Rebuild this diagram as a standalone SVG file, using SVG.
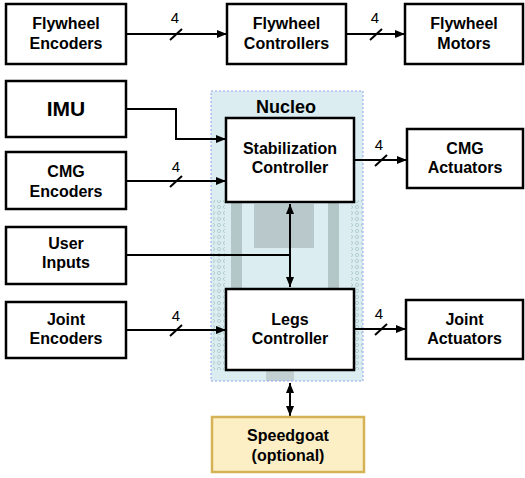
<svg xmlns="http://www.w3.org/2000/svg" width="525" height="478" viewBox="0 0 525 478">
<defs>
<style>
.box{fill:#fff;stroke:#000;stroke-width:2.5}
.t{font-family:"Liberation Sans",Arial,sans-serif;font-weight:bold;font-size:16px;fill:#000;text-anchor:middle}
.n{font-family:"Liberation Sans",Arial,sans-serif;font-size:15px;fill:#000;text-anchor:middle}
.c{fill:none;stroke:#000;stroke-width:2}
</style>
<marker id="ah" viewBox="0 0 10 10" refX="10" refY="5" markerWidth="5" markerHeight="5" orient="auto-start-reverse" markerUnits="strokeWidth">
<path d="M0,1 L10,5 L0,9 z" fill="#000"/>
</marker>
<pattern id="holes" width="6" height="6" patternUnits="userSpaceOnUse">
<circle cx="3" cy="3" r="1.6" fill="none" stroke="#aac6c8" stroke-width="0.8"/>
</pattern>
</defs>
<g id="nucleo">
<rect x="211" y="91" width="152" height="290" fill="#dbedf0"/>
<rect x="213" y="200" width="12" height="170" fill="url(#holes)"/>
<rect x="351" y="200" width="11" height="170" fill="url(#holes)"/>
<rect x="231" y="202" width="11" height="88" fill="#b3c6c8"/>
<rect x="328" y="202" width="11" height="88" fill="#b3c6c8"/>
<rect x="254" y="204" width="60" height="44" fill="#b9c8ca"/>
<rect x="266" y="370" width="28" height="11" fill="#c3d0d2"/>
<rect x="211" y="91" width="152" height="290" fill="none" stroke="#8fa2f0" stroke-width="1" stroke-dasharray="2,2"/>
<text x="286" y="113" class="t" style="font-size:18px">Nucleo</text>
</g>
<g id="connectors">
<path class="c" d="M126,34 H227" marker-end="url(#ah)"/>
<path class="c" d="M170,40 L182,29"/>
<text x="175" y="23" class="n">4</text>
<path class="c" d="M346,34 H405" marker-end="url(#ah)"/>
<path class="c" d="M370,40 L382,29"/>
<text x="375" y="23" class="n">4</text>
<path class="c" d="M126,109 H176 V139 H226" marker-end="url(#ah)"/>
<path class="c" d="M126,181 H226" marker-end="url(#ah)"/>
<path class="c" d="M170,187 L182,176"/>
<text x="176" y="172" class="n">4</text>
<path class="c" d="M126,255 H290"/>
<path class="c" d="M290,204 V287" marker-start="url(#ah)" marker-end="url(#ah)"/>
<path class="c" d="M354,160 H407" marker-end="url(#ah)"/>
<path class="c" d="M375,166 L387,155"/>
<text x="379" y="150" class="n">4</text>
<path class="c" d="M126,330 H226" marker-end="url(#ah)"/>
<path class="c" d="M170,336 L182,325"/>
<text x="176" y="321" class="n">4</text>
<path class="c" d="M354,329 H406" marker-end="url(#ah)"/>
<path class="c" d="M375,335 L387,324"/>
<text x="379" y="319" class="n">4</text>
<path class="c" d="M290,383 V416" marker-start="url(#ah)" marker-end="url(#ah)"/>
</g>
<g id="flywheel-encoders"><rect class="box" x="6" y="4" width="120" height="60"/><text x="66" y="29" class="t">Flywheel</text><text x="66" y="49" class="t">Encoders</text></g>
<g id="flywheel-controllers"><rect class="box" x="227" y="4" width="119" height="60"/><text x="286.5" y="29" class="t">Flywheel</text><text x="286.5" y="49" class="t">Controllers</text></g>
<g id="flywheel-motors"><rect class="box" x="405" y="4" width="118" height="60"/><text x="464" y="29" class="t">Flywheel</text><text x="464" y="49" class="t">Motors</text></g>
<g id="imu"><rect class="box" x="6" y="81" width="120" height="56"/><text x="66" y="116" class="t" style="font-size:21px">IMU</text></g>
<g id="cmg-encoders"><rect class="box" x="6" y="152" width="120" height="57"/><text x="66" y="177" class="t">CMG</text><text x="66" y="197" class="t">Encoders</text></g>
<g id="user-inputs"><rect class="box" x="6" y="227" width="120" height="57"/><text x="66" y="249" class="t">User</text><text x="66" y="268" class="t">Inputs</text></g>
<g id="joint-encoders"><rect class="box" x="6" y="302" width="120" height="56"/><text x="66" y="325" class="t">Joint</text><text x="66" y="344" class="t">Encoders</text></g>
<g id="stabilization-controller"><rect class="box" x="226" y="118" width="128" height="84"/><text x="290" y="154" class="t">Stabilization</text><text x="290" y="173" class="t">Controller</text></g>
<g id="legs-controller"><rect class="box" x="226" y="289" width="128" height="81"/><text x="290" y="325" class="t">Legs</text><text x="290" y="344" class="t">Controller</text></g>
<g id="cmg-actuators"><rect class="box" x="407" y="129" width="116" height="59"/><text x="465" y="154" class="t">CMG</text><text x="465" y="173" class="t">Actuators</text></g>
<g id="joint-actuators"><rect class="box" x="406" y="300" width="117" height="59"/><text x="464.5" y="325" class="t">Joint</text><text x="464.5" y="344" class="t">Actuators</text></g>
<g id="speedgoat"><rect x="212" y="417" width="152" height="55" fill="#fcefc6" stroke="#d5b255" stroke-width="2.5"/><text x="288" y="441" class="t">Speedgoat</text><text x="288" y="461" class="t">(optional)</text></g>
</svg>
